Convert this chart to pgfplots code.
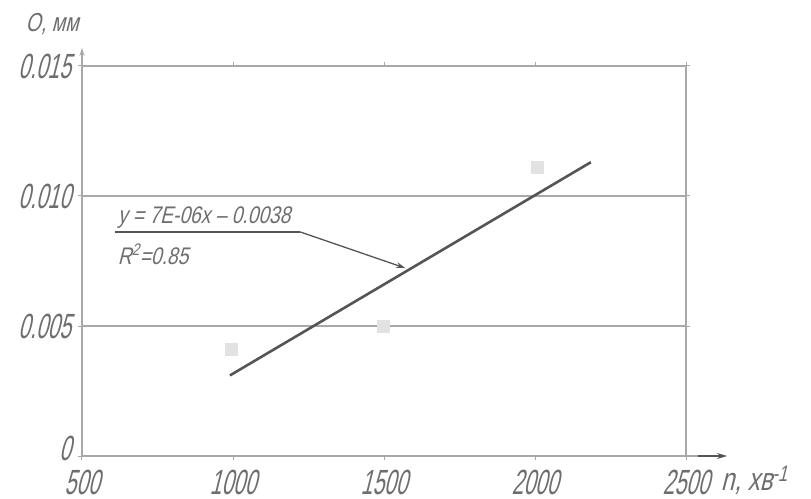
\documentclass[border=0pt]{standalone}
\usepackage{fontspec}
\setmainfont{Liberation Sans}[FakeStretch=0.6, FakeSlant=0.25]
\newfontfamily\annfont{Liberation Sans}[FakeStretch=0.8, FakeSlant=0.25]
\newfontfamily\labfont{Liberation Sans}[FakeStretch=0.75, FakeSlant=0.25]
\usepackage{pgfplots}
\usetikzlibrary{arrows.meta}
\pgfplotsset{compat=1.18}
\definecolor{gridc}{HTML}{A8A8A8}
\definecolor{txtc}{HTML}{6E6E6E}
\definecolor{linec}{HTML}{555555}
\definecolor{markc}{HTML}{E2E2E2}
\begin{document}
\begin{tikzpicture}
\begin{axis}[
  width=604pt, height=390pt, scale only axis,
  xmin=500, xmax=2500, ymin=0, ymax=0.015,
  xtick={500,1000,1500,2000,2500},
  xticklabels={500,1000,1500,2000,2500},
  ytick={0,0.005,0.01,0.015},
  yticklabels={\raisebox{15pt}{0},0.005,0.010,0.015},
  scaled y ticks=false, scaled x ticks=false,
  /pgf/number format/assume math mode=true,
  axis line style={draw=gridc, line width=1.2pt},
  ymajorgrids, grid style={draw=gridc, line width=1.2pt},
  tick style={draw=gridc, line width=1pt},
  tick align=outside, major tick length=4pt,
  ticklabel style={text=txtc, font=\fontsize{35}{35}\selectfont, inner sep=1pt},
  xticklabel style={yshift=-9pt},
  yticklabel style={xshift=-6pt},
  clip=false,
]
\addplot[only marks, mark=square*, mark size=6pt, draw=markc, fill=markc] coordinates {
  (995,0.0041) (1497,0.0050) (2007,0.0111)
};
\addplot[draw=linec, line width=2.6pt] coordinates {(990,0.0031) (2185,0.0113)};
\draw[draw=linec, line width=1.3pt] (axis cs:609,0.00862) -- (axis cs:1222,0.00862);
\draw[draw=linec, line width=1.3pt, -{Stealth[length=9pt,width=6pt]}] (axis cs:1222,0.00862) -- (axis cs:1570,0.00723);
\node[anchor=south west, text=txtc, font=\annfont\fontsize{24}{24}\selectfont, inner sep=1pt] at (axis cs:615,0.00872) {y = 7E-06x – 0.0038};
\node[anchor=north west, text=txtc, font=\annfont\fontsize{24}{24}\selectfont, inner sep=1pt] at (axis cs:615,0.0082) {R\textsuperscript{2}=0.85};
\draw[draw=gridc, line width=1.2pt] (axis cs:2500,0) -- (axis cs:2540,0);
\draw[draw=linec, line width=1.4pt, -{Stealth[length=10pt,width=6pt]}] (axis cs:2540,0) -- (axis cs:2636,0);
\draw[draw=gridc, line width=1.2pt, -{Stealth[length=8pt,width=5pt]}] (axis cs:500,0.015) -- (axis cs:500,0.0157);
\node[anchor=center, text=txtc, font=\labfont\fontsize{26}{26}\selectfont] at (axis cs:401,0.01662) {О, мм};
\node[anchor=west, text=txtc, font=\labfont\fontsize{32}{32}\selectfont, inner sep=0pt] at (axis cs:2615,-0.00095) {n, хв\textsuperscript{-1}};
\coordinate (ll) at (rel axis cs:0,0);
\end{axis}
\pgfresetboundingbox
\path (ll) ++(-82pt,-42pt) rectangle ++(811pt,498pt);
\end{tikzpicture}
\end{document}
